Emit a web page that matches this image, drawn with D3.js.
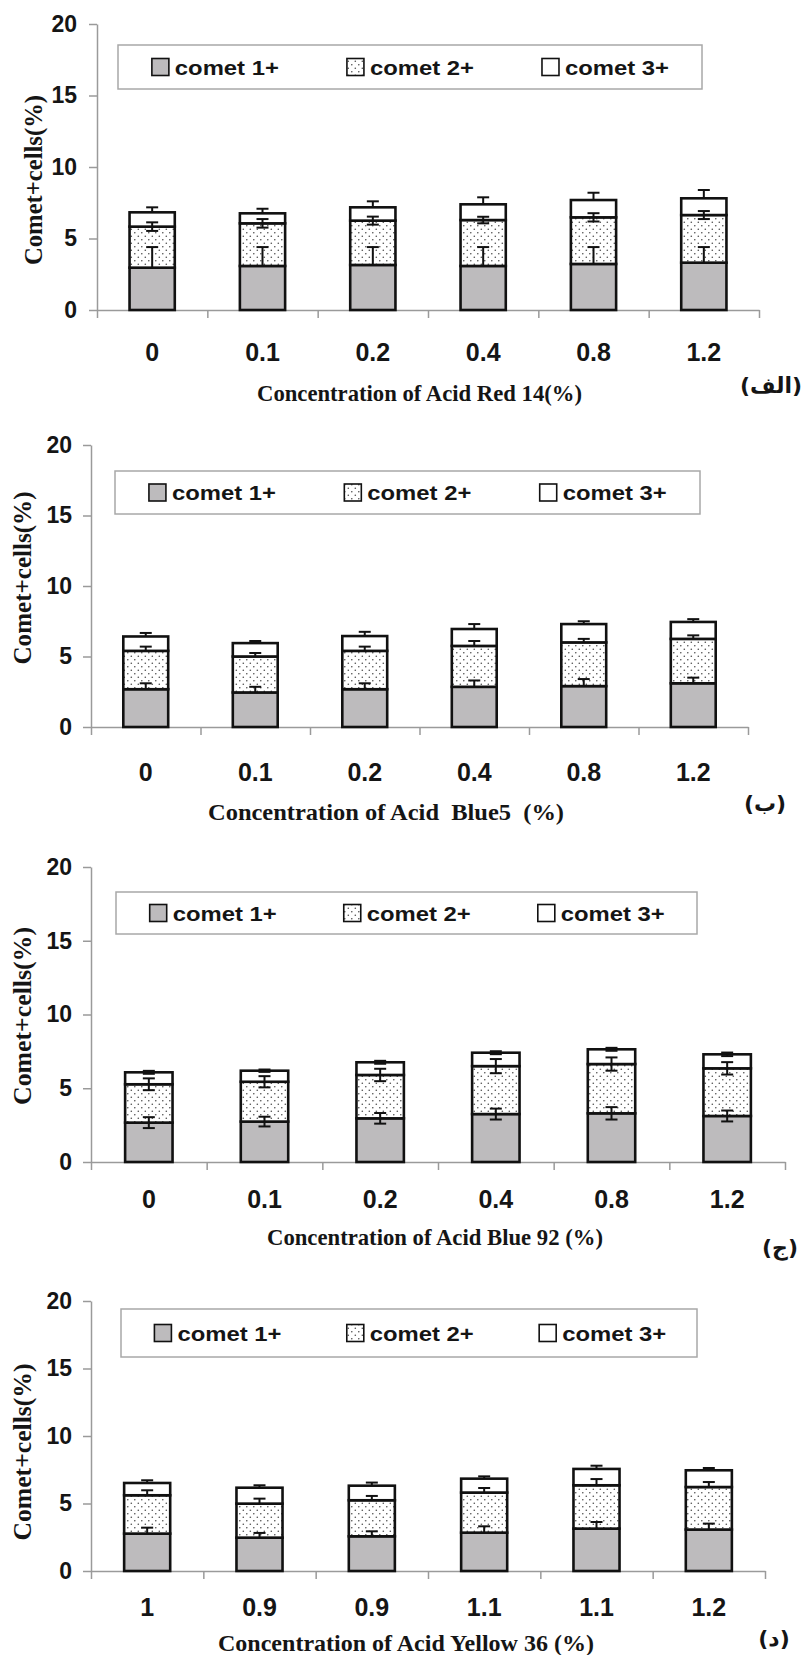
<!DOCTYPE html>
<html>
<head>
<meta charset="utf-8">
<script src="https://cdn.jsdelivr.net/npm/d3@7"></script>
<style>
  html, body { margin: 0; padding: 0; background: #fff; }
  svg { display: block; }
  .axis path, .axis line { stroke: #9a9a9a; stroke-width: 1.5; }
  .tick-lab { font-family: "Liberation Sans", Arial, sans-serif; font-weight: bold; fill: #151515; }
  .serif { font-family: "Liberation Serif", "Times New Roman", serif; font-weight: bold; fill: #151515; white-space: pre; }
</style>
</head>
<body>
<script>
// ---- data ----
var seriesNames = ["comet 1+", "comet 2+", "comet 3+"];
var yTicks = [0, 5, 10, 15, 20];
var concLabels = ["0", "0.1", "0.2", "0.4", "0.8", "1.2"];
var yellowLabels = ["1", "0.9", "0.9", "1.1", "1.1", "1.2"];

// Acid Red 14
var red14Comet1 = [2.96, 3.08, 3.15, 3.08, 3.22, 3.31];
var red14Comet2 = [2.87, 2.98, 3.10, 3.21, 3.26, 3.33];
var red14Comet3 = [1.00, 0.70, 0.93, 1.10, 1.21, 1.17];
var red14ErrUp1 = [1.44, 1.32, 1.25, 1.32, 1.18, 1.09];
var red14ErrUp2 = [0.30, 0.30, 0.28, 0.23, 0.29, 0.28];
var red14ErrUp3 = [0.35, 0.32, 0.42, 0.49, 0.51, 0.58];
var red14ErrDn2 = [0.30, 0.30, 0.28, 0.23, 0.29, 0.28];

// Acid Blue 5
var blue5Comet1 = [2.68, 2.45, 2.68, 2.85, 2.90, 3.10];
var blue5Comet2 = [2.72, 2.55, 2.72, 2.90, 3.10, 3.15];
var blue5Comet3 = [1.02, 0.95, 1.05, 1.20, 1.30, 1.20];
var blue5ErrUp1 = [0.42, 0.40, 0.42, 0.45, 0.50, 0.40];
var blue5ErrUp2 = [0.30, 0.25, 0.30, 0.35, 0.25, 0.25];
var blue5ErrUp3 = [0.25, 0.15, 0.30, 0.35, 0.20, 0.20];

// Acid Blue 92
var blue92Comet1 = [2.67, 2.74, 2.96, 3.25, 3.30, 3.12];
var blue92Comet2 = [2.60, 2.70, 2.94, 3.25, 3.34, 3.23];
var blue92Comet3 = [0.81, 0.75, 0.86, 0.91, 1.00, 0.95];
var blue92Err1 = [0.37, 0.33, 0.36, 0.37, 0.42, 0.37];
var blue92Err2 = [0.40, 0.38, 0.42, 0.48, 0.45, 0.42];
var blue92Err3 = [0.10, 0.08, 0.10, 0.10, 0.10, 0.12];

// Acid Yellow 36
var yellowComet1 = [2.77, 2.47, 2.57, 2.84, 3.14, 3.07];
var yellowComet2 = [2.84, 2.52, 2.67, 2.97, 3.21, 3.15];
var yellowComet3 = [0.91, 1.18, 1.08, 1.03, 1.21, 1.24];
var yellowErrUp1 = [0.44, 0.35, 0.37, 0.47, 0.49, 0.44];
var yellowErrUp2 = [0.37, 0.37, 0.32, 0.34, 0.46, 0.37];
var yellowErrUp3 = [0.20, 0.18, 0.23, 0.17, 0.24, 0.17];

var zeros = [0, 0, 0, 0, 0, 0];

var panels = [
  { labels: concLabels, values: [red14Comet1, red14Comet2, red14Comet3],
    up: [red14ErrUp1, red14ErrUp2, red14ErrUp3], down: [zeros, red14ErrDn2, zeros],
    title: "Concentration of Acid Red 14(%)", tag: "(الف)",
    x0: 97, x1: 759, top: 24, bottom: 310, tickRight: 77,
    yLab: [33, 180, 170], legend: [118, 45, 584, 44],
    xLabY: 352, titleX: [257, 582], titleY: 393, tagPos: [771, 385] },
  { labels: concLabels, values: [blue5Comet1, blue5Comet2, blue5Comet3],
    up: [blue5ErrUp1, blue5ErrUp2, blue5ErrUp3], down: [zeros, zeros, zeros],
    title: "Concentration of Acid  Blue5  (%)", tag: "(ب)",
    x0: 91, x1: 748, top: 445, bottom: 727, tickRight: 72,
    yLab: [22, 578, 173], legend: [115, 471, 585, 43],
    xLabY: 772, titleX: [208, 564], titleY: 812, tagPos: [765, 803] },
  { labels: concLabels, values: [blue92Comet1, blue92Comet2, blue92Comet3],
    up: [blue92Err1, blue92Err2, blue92Err3], down: [blue92Err1, blue92Err2, blue92Err3],
    title: "Concentration of Acid Blue 92 (%)", tag: "(ج)",
    x0: 91, x1: 785, top: 867, bottom: 1162, tickRight: 72,
    yLab: [22, 1016, 178], legend: [116, 892, 581, 42],
    xLabY: 1199, titleX: [267, 603], titleY: 1237, tagPos: [780, 1247] },
  { labels: yellowLabels, values: [yellowComet1, yellowComet2, yellowComet3],
    up: [yellowErrUp1, yellowErrUp2, yellowErrUp3], down: [zeros, zeros, zeros],
    title: "Concentration of Acid Yellow 36 (%)", tag: "(د)",
    x0: 91, x1: 765, top: 1301, bottom: 1571, tickRight: 72,
    yLab: [22, 1452, 177], legend: [121, 1309, 576, 48],
    xLabY: 1607, titleX: [218, 594], titleY: 1643, tagPos: [774, 1638] }
];

var W = 802, H = 1655;
var fills = ["#bdbbbd", "url(#dots)", "#ffffff"];
var ink = "#111";

var svg = d3.select("body").append("svg").attr("width", W).attr("height", H);

var pat = svg.append("defs").append("pattern")
  .attr("id", "dots").attr("patternUnits", "userSpaceOnUse")
  .attr("width", 7).attr("height", 7);
pat.append("rect").attr("width", 7).attr("height", 7).attr("fill", "#fff");
pat.append("circle").attr("cx", 1.8).attr("cy", 1.8).attr("r", 0.8).attr("fill", "#4a4a4a");
pat.append("circle").attr("cx", 5.3).attr("cy", 5.3).attr("r", 0.8).attr("fill", "#4a4a4a");

panels.forEach(function (p) {
  var g = svg.append("g");
  var idx = d3.range(p.labels.length);

  var x = d3.scaleBand().domain(idx).range([p.x0, p.x1])
    .paddingInner(0.59).paddingOuter(0.295);
  var xEdge = d3.scaleLinear().domain([0, idx.length]).range([p.x0, p.x1]);
  var y = d3.scaleLinear().domain([0, 20]).range([p.bottom, p.top]);

  // y axis
  g.append("g").attr("class", "axis")
    .attr("transform", "translate(" + p.x0 + ",0)")
    .call(d3.axisLeft(y).tickValues(yTicks).tickSize(8).tickSizeOuter(0)
      .tickPadding(p.x0 - 8 - p.tickRight))
    .call(function (a) {
      a.selectAll("text").attr("class", "tick-lab").style("font-size", "23px").attr("fill", null);
    });

  // x axis: boundary ticks
  g.append("g").attr("class", "axis")
    .attr("transform", "translate(0," + p.bottom + ")")
    .call(d3.axisBottom(xEdge).ticks(idx.length).tickSize(8).tickSizeOuter(0).tickFormat(""));

  // x axis: category labels
  g.append("g")
    .attr("transform", "translate(0," + p.bottom + ")")
    .call(d3.axisBottom(x).tickSize(0).tickFormat(function (i) { return p.labels[i]; }))
    .call(function (a) {
      a.select(".domain").remove();
      a.selectAll("text").attr("class", "tick-lab").style("font-size", "25px")
        .attr("fill", null).attr("y", p.xLabY - p.bottom).attr("dy", "0.35em");
    });

  // stacked bars
  var rows = idx.map(function (i) {
    return { i: i, c0: p.values[0][i], c1: p.values[1][i], c2: p.values[2][i] };
  });
  var stacked = d3.stack().keys(["c0", "c1", "c2"])(rows);

  g.selectAll("g.layer").data(stacked).join("g").attr("class", "layer")
    .attr("fill", function (d, k) { return fills[k]; })
    .selectAll("rect").data(function (d) { return d; }).join("rect")
      .attr("x", function (d) { return x(d.data.i); })
      .attr("width", x.bandwidth())
      .attr("y", function (d) { return y(d[1]); })
      .attr("height", function (d) { return y(d[0]) - y(d[1]); })
      .attr("stroke", ink).attr("stroke-width", 2.6);

  // error bars
  var cap = 6;
  stacked.forEach(function (layer, k) {
    layer.forEach(function (d, i) {
      var cx = x(i) + x.bandwidth() / 2;
      var top = d[1];
      var hi = top + p.up[k][i], lo = top - p.down[k][i];
      var eg = g.append("g").attr("stroke", ink).attr("stroke-width", 2);
      eg.append("line").attr("x1", cx).attr("x2", cx).attr("y1", y(lo)).attr("y2", y(hi));
      eg.append("line").attr("x1", cx - cap).attr("x2", cx + cap).attr("y1", y(hi)).attr("y2", y(hi));
      if (p.down[k][i] > 0) {
        eg.append("line").attr("x1", cx - cap).attr("x2", cx + cap).attr("y1", y(lo)).attr("y2", y(lo));
      }
    });
  });

  // legend
  var L = p.legend;
  var lg = g.append("g");
  lg.append("rect").attr("x", L[0]).attr("y", L[1]).attr("width", L[2]).attr("height", L[3])
    .attr("fill", "#fff").attr("stroke", "#a8a8a8").attr("stroke-width", 1.5);
  var lx = d3.scalePoint().domain(seriesNames).range([L[0] + L[2] * 0.058, L[0] + L[2] * 0.726]);
  var cy = L[1] + L[3] / 2;
  seriesNames.forEach(function (name, k) {
    lg.append("rect").attr("x", lx(name)).attr("y", cy - 8.5).attr("width", 17).attr("height", 17)
      .attr("fill", fills[k]).attr("stroke", ink).attr("stroke-width", 1.6);
    lg.append("text").attr("class", "tick-lab").attr("x", lx(name) + 23).attr("y", cy)
      .attr("dy", "0.36em").style("font-size", "21px")
      .attr("textLength", 104).attr("lengthAdjust", "spacingAndGlyphs").text(name);
  });

  // y label
  g.append("text").attr("class", "serif")
    .attr("transform", "translate(" + p.yLab[0] + "," + p.yLab[1] + ") rotate(-90)")
    .attr("text-anchor", "middle").attr("dy", "0.35em").style("font-size", "25px")
    .attr("textLength", p.yLab[2]).attr("lengthAdjust", "spacingAndGlyphs")
    .text("Comet+cells(%)");

  // x title
  g.append("text").attr("class", "serif")
    .attr("x", p.titleX[0]).attr("y", p.titleY).attr("dy", "0.35em")
    .style("font-size", "24px")
    .attr("textLength", p.titleX[1] - p.titleX[0]).attr("lengthAdjust", "spacingAndGlyphs")
    .text(p.title);

  // panel tag
  g.append("text").attr("class", "serif")
    .attr("x", p.tagPos[0]).attr("y", p.tagPos[1]).attr("dy", "0.35em")
    .attr("text-anchor", "middle").style("font-size", "22px")
    .style("font-family", "'DejaVu Sans', 'Noto Sans', serif")
    .text(p.tag);
});
</script>
</body>
</html>
